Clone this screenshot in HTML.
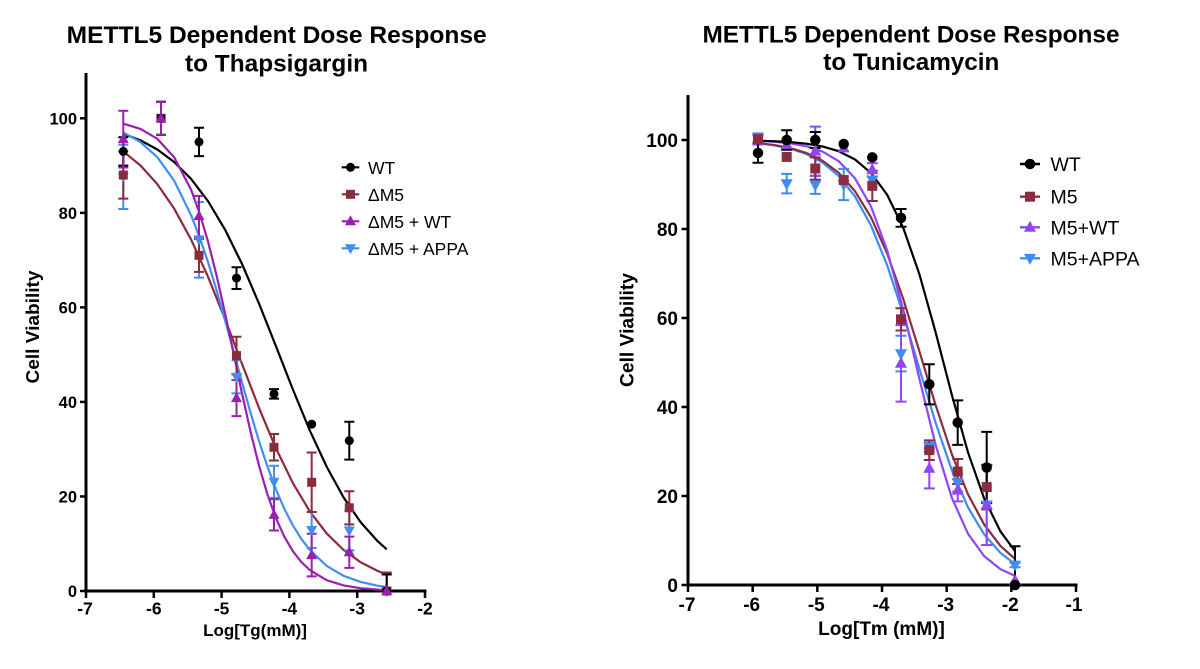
<!DOCTYPE html>
<html><head><meta charset="utf-8"><style>
html,body{margin:0;padding:0;background:#fff;}
svg{display:block;font-family:"Liberation Sans",Arial,sans-serif;}
</style></head><body>
<svg width="1200" height="669" viewBox="0 0 1200 669" xmlns="http://www.w3.org/2000/svg">
<defs>
<circle id="cL" r="4.5"/>
<rect id="sL" x="-4.5" y="-4.5" width="9" height="9"/>
<path id="uL" d="M0,-6L5.5,4L-5.5,4Z"/>
<path id="dL" d="M0,6L5.5,-4L-5.5,-4Z"/>
<circle id="cR" r="5.25"/>
<rect id="sR" x="-5" y="-5" width="10" height="10"/>
<path id="uR" d="M0,-6.6L6,4.4L-6,4.4Z"/>
<path id="dR" d="M0,6.6L6,-4.4L-6,-4.4Z"/>
</defs>
<rect width="1200" height="669" fill="#fff"/>
<!-- Titles -->
<g font-weight="bold" font-size="24" text-anchor="middle" fill="#000">
<text x="276.7" y="43" textLength="420" lengthAdjust="spacingAndGlyphs">METTL5 Dependent Dose Response</text>
<text x="276.5" y="71.5" textLength="183" lengthAdjust="spacingAndGlyphs">to Thapsigargin</text>
<text x="911" y="42.5" textLength="417" lengthAdjust="spacingAndGlyphs">METTL5 Dependent Dose Response</text>
<text x="911.3" y="70" textLength="176" lengthAdjust="spacingAndGlyphs">to Tunicamycin</text>
</g>
<!-- Axes -->
<g stroke="#000" stroke-width="3" fill="none">
<line x1="86" y1="73" x2="86" y2="592.5"/>
<line x1="84.5" y1="591" x2="426.5" y2="591"/>
<line x1="688" y1="95" x2="688" y2="586.5"/>
<line x1="686.5" y1="585" x2="1077.5" y2="585"/>
</g>
<g stroke="#000" stroke-width="2.5">
<line x1="80" y1="591" x2="86" y2="591"/>
<line x1="80" y1="496.46" x2="86" y2="496.46"/>
<line x1="80" y1="401.92" x2="86" y2="401.92"/>
<line x1="80" y1="307.38" x2="86" y2="307.38"/>
<line x1="80" y1="212.84" x2="86" y2="212.84"/>
<line x1="80" y1="118.3" x2="86" y2="118.3"/>
<line x1="86" y1="591" x2="86" y2="598"/>
<line x1="153.8" y1="591" x2="153.8" y2="598"/>
<line x1="221.6" y1="591" x2="221.6" y2="598"/>
<line x1="289.4" y1="591" x2="289.4" y2="598"/>
<line x1="357.2" y1="591" x2="357.2" y2="598"/>
<line x1="425" y1="591" x2="425" y2="598"/>
<line x1="681.5" y1="585" x2="688" y2="585"/>
<line x1="681.5" y1="496" x2="688" y2="496"/>
<line x1="681.5" y1="407" x2="688" y2="407"/>
<line x1="681.5" y1="318" x2="688" y2="318"/>
<line x1="681.5" y1="229" x2="688" y2="229"/>
<line x1="681.5" y1="140" x2="688" y2="140"/>
<line x1="688" y1="585" x2="688" y2="592"/>
<line x1="752.67" y1="585" x2="752.67" y2="592"/>
<line x1="817.34" y1="585" x2="817.34" y2="592"/>
<line x1="882.01" y1="585" x2="882.01" y2="592"/>
<line x1="946.68" y1="585" x2="946.68" y2="592"/>
<line x1="1011.35" y1="585" x2="1011.35" y2="592"/>
<line x1="1076" y1="585" x2="1076" y2="592"/>
</g>
<g font-weight="bold" font-size="16.5" fill="#000" text-anchor="end">
<text x="77" y="597">0</text>
<text x="77" y="502.5">20</text>
<text x="77" y="408">40</text>
<text x="77" y="313.4">60</text>
<text x="77" y="218.8">80</text>
<text x="77" y="124.3">100</text>
</g>
<g font-weight="bold" font-size="17.5" fill="#000" text-anchor="middle">
<text x="85" y="614.5">-7</text>
<text x="153.8" y="614.5">-6</text>
<text x="221.6" y="614.5">-5</text>
<text x="289.4" y="614.5">-4</text>
<text x="357.2" y="614.5">-3</text>
<text x="425" y="614.5">-2</text>
<text x="255" y="636" font-size="17">Log[Tg(mM)]</text>
</g>
<text transform="translate(39,327) rotate(-90)" font-weight="bold" font-size="18.5" text-anchor="middle" textLength="113" lengthAdjust="spacingAndGlyphs">Cell Viability</text>
<g font-weight="bold" font-size="19" fill="#000" text-anchor="end">
<text x="678" y="592">0</text>
<text x="678" y="503">20</text>
<text x="678" y="414">40</text>
<text x="678" y="325">60</text>
<text x="678" y="236">80</text>
<text x="678" y="147">100</text>
</g>
<g font-weight="bold" font-size="19" fill="#000" text-anchor="middle">
<text x="687" y="611">-7</text>
<text x="751.7" y="611">-6</text>
<text x="816.3" y="611">-5</text>
<text x="881" y="611">-4</text>
<text x="945.7" y="611">-3</text>
<text x="1010.3" y="611">-2</text>
<text x="1074" y="611">-1</text>
<text x="881.5" y="635">Log[Tm (mM)]</text>
</g>
<text transform="translate(633.5,330) rotate(-90)" font-weight="bold" font-size="19" text-anchor="middle" textLength="114" lengthAdjust="spacingAndGlyphs">Cell Viability</text>

<!-- LEFT CURVES -->
<g fill="none" stroke-width="2.2" stroke-linejoin="round">
<path stroke="#000" d="M123.29,133.71 L140.24,140.28 L157.19,149.40 L174.14,162.02 L191.09,178.95 L208.04,201.21 L224.99,229.53 L241.94,263.80 L258.89,303.27 L275.84,345.95 L292.79,389.25 L309.74,430.28 L326.69,466.77 L343.64,497.50 L360.59,522.13 L377.54,541.08 L386.69,549.31"/>
<path stroke="#8b2b3b" d="M123.29,151.48 L140.24,165.29 L157.19,184.00 L174.14,208.54 L191.09,239.55 L208.04,276.84 L224.99,319.01 L241.94,363.63 L258.89,407.64 L275.84,448.06 L292.79,482.89 L309.74,511.30 L326.69,533.43 L343.64,550.02 L360.59,562.21 L377.54,570.91 L386.69,574.50"/>
<path stroke="#3f8ff2" d="M123.29,132.48 L140.24,141.93 L157.19,157.06 L174.14,180.60 L191.09,215.20 L199.57,237.14 L208.04,262.24 L216.52,290.03 L224.99,319.91 L233.47,350.87 L241.94,382.11 L250.42,412.27 L258.89,440.68 L267.37,466.40 L275.84,489.13 L284.32,508.75 L292.79,525.20 L301.27,538.81 L309.74,549.88 L326.69,565.90 L343.64,575.87 L360.59,581.97 L377.54,585.66 L386.69,586.98"/>
<path stroke="#9b1fae" d="M123.29,123.69 L140.24,128.84 L157.19,138.72 L174.14,157.20 L191.09,189.73 L199.57,213.03 L208.04,241.63 L216.52,275.24 L224.99,313.00 L233.47,353.04 L241.94,393.13 L250.42,431.13 L258.89,465.17 L267.37,494.19 L275.84,517.92 L284.32,536.69 L292.79,551.10 L301.27,561.98 L309.74,570.01 L326.69,580.18 L343.64,585.47 L360.59,588.21 L377.54,589.58 L386.69,590.01"/>
</g>
<!-- LEFT ERROR BARS -->
<g fill="none" stroke-width="2">
<path stroke="#3f8ff2" d="M123.3,144.77V209.06M118.3,144.77H128.3M118.3,209.06H128.3 M161,101.76V134.84M156,101.76H166M156,134.84H166 M199,201.97V277.6M194,201.97H204M194,277.6H204 M236.5,360.32V393.41M231.5,360.32H241.5M231.5,393.41H241.5 M274,465.73V497.88M269,465.73H279M269,497.88H279 M311.7,512.06V547.98M306.7,512.06H316.7M306.7,547.98H316.7 M349.3,510.64V550.35M344.3,510.64H354.3M344.3,550.35H354.3"/>
<path stroke="#8b2b3b" d="M123.3,151.39V198.66M118.3,151.39H128.3M118.3,198.66H128.3 M161,101.76V134.84M156,101.76H166M156,134.84H166 M199,238.84V271.93M194,238.84H204M194,271.93H204 M236.5,336.69V374.5M231.5,336.69H241.5M231.5,374.5H241.5 M274,434.06V460.53M269,434.06H279M269,460.53H279 M311.7,452.5V512.06M306.7,452.5H316.7M306.7,512.06H316.7 M349.3,491.26V524.35M344.3,491.26H354.3M344.3,524.35H354.3 M386.7,572.56V591M381.7,572.56H391.7"/>
<path stroke="#000" d="M123.3,137.21V165.57M118.3,137.21H128.3M118.3,165.57H128.3 M161,101.76V134.84M156,101.76H166M156,134.84H166 M199,127.75V156.12M194,127.75H204M194,156.12H204 M236.5,267.2V288.94M231.5,267.2H241.5M231.5,288.94H241.5 M274,389.15V398.61M269,389.15H279M269,398.61H279 M349.3,421.77V459.59M344.3,421.77H354.3M344.3,459.59H354.3 M386.7,574.46V591M381.7,574.46H391.7"/>
<path stroke="#9b1fae" d="M123.3,110.74V167.46M118.3,110.74H128.3M118.3,167.46H128.3 M161,101.76V134.84M156,101.76H166M156,134.84H166 M199,195.82V236.47M194,195.82H204M194,236.47H204 M236.5,380.18V416.1M231.5,380.18H241.5M231.5,416.1H241.5 M274,499.3V530.49M269,499.3H279M269,530.49H279 M311.7,533.8V576.35M306.7,533.8H316.7M306.7,576.35H316.7 M349.3,536.64V567.84M344.3,536.64H354.3M344.3,567.84H354.3"/>
</g>
<!-- LEFT MARKERS -->
<g fill="#3f8ff2">
<use href="#dL" x="123.3" y="176.91"/><use href="#dL" x="161" y="118.3"/><use href="#dL" x="199" y="239.78"/><use href="#dL" x="236.5" y="376.87"/><use href="#dL" x="274" y="481.81"/><use href="#dL" x="311.7" y="530.02"/><use href="#dL" x="349.3" y="530.49"/><use href="#dL" x="386.7" y="591"/>
</g>
<g fill="#8b2b3b">
<use href="#sL" x="123.3" y="175.02"/><use href="#sL" x="161" y="118.3"/><use href="#sL" x="199" y="255.38"/><use href="#sL" x="236.5" y="355.6"/><use href="#sL" x="274" y="447.3"/><use href="#sL" x="311.7" y="482.28"/><use href="#sL" x="349.3" y="507.8"/><use href="#sL" x="386.7" y="591"/>
</g>
<g fill="#000">
<use href="#cL" x="123.3" y="151.39"/><use href="#cL" x="161" y="118.3"/><use href="#cL" x="199" y="141.93"/><use href="#cL" x="236.5" y="278.07"/><use href="#cL" x="274" y="393.88"/><use href="#cL" x="311.7" y="424.14"/><use href="#cL" x="349.3" y="440.68"/><use href="#cL" x="386.7" y="591"/>
</g>
<g fill="#9b1fae">
<use href="#uL" x="123.3" y="139.1"/><use href="#uL" x="161" y="118.3"/><use href="#uL" x="199" y="216.15"/><use href="#uL" x="236.5" y="398.14"/><use href="#uL" x="274" y="514.9"/><use href="#uL" x="311.7" y="555.07"/><use href="#uL" x="349.3" y="552.24"/><use href="#uL" x="386.7" y="591"/>
</g>
<!-- LEFT LEGEND -->
<g stroke-width="2.2">
<line x1="341.7" y1="167.3" x2="359.3" y2="167.3" stroke="#000"/>
<line x1="341.7" y1="194.3" x2="359.3" y2="194.3" stroke="#8b2b3b"/>
<line x1="341.7" y1="221.3" x2="359.3" y2="221.3" stroke="#9b1fae"/>
<line x1="341.7" y1="248.3" x2="359.3" y2="248.3" stroke="#3f8ff2"/>
</g>
<use href="#cL" x="350.5" y="167.3" fill="#000"/>
<use href="#sL" x="350.5" y="194.3" fill="#8b2b3b"/>
<use href="#uL" x="350.5" y="221.3" fill="#9b1fae"/>
<use href="#dL" x="350.5" y="248.3" fill="#3f8ff2"/>
<g font-size="17.5" fill="#000">
<text x="368" y="173.8">WT</text>
<text x="368" y="200.8">ΔM5</text>
<text x="368" y="227.8">ΔM5 + WT</text>
<text x="368" y="254.8">ΔM5 + APPA</text>
</g>

<!-- RIGHT CURVES -->
<g fill="none" stroke-width="2.2" stroke-linejoin="round">
<path stroke="#3b8cf4" d="M757.84,143.20 L774.01,145.25 L790.18,148.59 L806.35,153.97 L822.51,162.52 L838.68,175.91 L854.85,196.20 L871.02,225.53 L887.18,265.27 L903.35,314.44 L919.52,369.17 L935.69,423.06 L951.85,470.23 L968.02,507.44 L984.19,534.40 L1000.36,552.83 L1015.23,564.13"/>
<path stroke="#8c2c40" d="M757.84,143.07 L774.01,144.98 L790.18,148.05 L806.35,152.95 L822.51,160.74 L838.68,172.75 L854.85,190.95 L871.02,217.34 L887.18,253.52 L903.35,299.27 L919.52,351.69 L935.69,405.26 L951.85,454.21 L968.02,494.35 L984.19,524.57 L1000.36,545.84 L1015.23,559.15"/>
<path stroke="#8e47f2" d="M757.84,140.93 L774.01,141.78 L790.18,143.34 L806.35,146.23 L822.51,151.53 L838.68,161.14 L854.85,178.09 L871.02,206.53 L887.18,250.45 L903.35,310.26 L919.52,379.28 L935.69,445.18 L951.85,497.74 L968.02,533.82 L984.19,556.16 L1000.36,569.16 L1015.23,576.01"/>
<path stroke="#000" d="M757.84,140.67 L774.01,141.20 L790.18,142.09 L806.35,143.69 L822.51,146.45 L838.68,151.21 L854.85,159.36 L871.02,172.93 L887.18,194.78 L903.35,228.11 L919.52,274.66 L935.69,332.60 L951.85,394.90 L968.02,452.43 L984.19,498.49 L1000.36,531.29 L1015.23,551.40"/>
</g>
<!-- RIGHT ERROR BARS -->
<g fill="none" stroke-width="2">
<path stroke="#3b8cf4" d="M758,133.33V142.23M752.5,133.33H763.5M752.5,142.23H763.5 M786.7,173.82V193.4M781.2,173.82H792.2M781.2,193.4H792.2 M815.3,176.04V193.85M809.8,176.04H820.8M809.8,193.85H820.8 M843.7,168.92V200.07M838.2,168.92H849.2M838.2,200.07H849.2 M901,335.8V371.4M895.5,335.8H906.5M895.5,371.4H906.5 M929.3,442.6V451.5M923.8,442.6H934.8M923.8,451.5H934.8 M957.7,473.75V491.55M952.2,473.75H963.2M952.2,491.55H963.2 M986.7,464.85V544.95M981.2,464.85H992.2M981.2,544.95H992.2 M1015,562.75V567.2M1009.5,562.75H1020.5M1009.5,567.2H1020.5"/>
<path stroke="#8e47f2" d="M758,135.55V144.45M752.5,135.55H763.5M752.5,144.45H763.5 M815.3,126.65V175.6M809.8,126.65H820.8M809.8,175.6H820.8 M872.3,163.14V176.49M866.8,163.14H877.8M866.8,176.49H877.8 M901,325.12V401.66M895.5,325.12H906.5M895.5,401.66H906.5 M929.3,448.38V488.43M923.8,448.38H934.8M923.8,488.43H934.8 M957.7,479.09V501.34M952.2,479.09H963.2M952.2,501.34H963.2 M986.7,464.85V544.95M981.2,464.85H992.2M981.2,544.95H992.2"/>
<path stroke="#8c2c40" d="M758,134.66V143.56M752.5,134.66H763.5M752.5,143.56H763.5 M815.3,157.35V179.6M809.8,157.35H820.8M809.8,179.6H820.8 M872.3,170.7V200.96M866.8,170.7H877.8M866.8,200.96H877.8 M901,308.21V330.46M895.5,308.21H906.5M895.5,330.46H906.5 M929.3,440.37V459.95M923.8,440.37H934.8M923.8,459.95H934.8 M957.7,459.06V483.98M952.2,459.06H963.2M952.2,483.98H963.2 M986.7,464.85V509.35M981.2,464.85H992.2M981.2,509.35H992.2"/>
<path stroke="#000" d="M758,143.11V162.69M752.5,143.11H763.5M752.5,162.69H763.5 M786.7,130.21V149.79M781.2,130.21H792.2M781.2,149.79H792.2 M815.3,131.99V148.01M809.8,131.99H820.8M809.8,148.01H820.8 M901,208.97V226.77M895.5,208.97H906.5M895.5,226.77H906.5 M929.3,364.28V404.33M923.8,364.28H934.8M923.8,404.33H934.8 M957.7,400.32V444.82M952.2,400.32H963.2M952.2,444.82H963.2 M986.7,431.92V503.12M981.2,431.92H992.2M981.2,503.12H992.2 M1015,546.28V585M1009.5,546.28H1020.5"/>
</g>
<!-- RIGHT MARKERS -->
<g fill="#3b8cf4">
<use href="#dR" x="758" y="137.78"/><use href="#dR" x="786.7" y="183.61"/><use href="#dR" x="815.3" y="184.94"/><use href="#dR" x="843.7" y="184.5"/><use href="#dR" x="872.3" y="180.05"/><use href="#dR" x="901" y="353.6"/><use href="#dR" x="929.3" y="447.05"/><use href="#dR" x="957.7" y="482.65"/><use href="#dR" x="986.7" y="504.9"/><use href="#dR" x="1015" y="564.98"/>
</g>
<g fill="#8e47f2">
<use href="#uR" x="758" y="140"/><use href="#uR" x="786.7" y="144.45"/><use href="#uR" x="815.3" y="151.12"/><use href="#uR" x="843.7" y="148.01"/><use href="#uR" x="872.3" y="169.81"/><use href="#uR" x="901" y="363.39"/><use href="#uR" x="929.3" y="468.41"/><use href="#uR" x="957.7" y="490.21"/><use href="#uR" x="986.7" y="504.9"/><use href="#uR" x="1015" y="580.55"/>
</g>
<g fill="#8c2c40">
<use href="#sR" x="758" y="139.11"/><use href="#sR" x="786.7" y="156.91"/><use href="#sR" x="815.3" y="168.48"/><use href="#sR" x="843.7" y="180.05"/><use href="#sR" x="872.3" y="185.83"/><use href="#sR" x="901" y="319.33"/><use href="#sR" x="929.3" y="450.16"/><use href="#sR" x="957.7" y="471.52"/><use href="#sR" x="986.7" y="487.1"/>
</g>
<g fill="#000">
<use href="#cR" x="758" y="152.9"/><use href="#cR" x="786.7" y="140"/><use href="#cR" x="815.3" y="140"/><use href="#cR" x="843.7" y="144"/><use href="#cR" x="872.3" y="157.35"/><use href="#cR" x="901" y="217.87"/><use href="#cR" x="929.3" y="384.3"/><use href="#cR" x="957.7" y="422.57"/><use href="#cR" x="986.7" y="467.52"/><use href="#cR" x="1015" y="585"/>
</g>
<!-- RIGHT LEGEND -->
<g stroke-width="2.4">
<line x1="1020" y1="164" x2="1040" y2="164" stroke="#000"/>
<line x1="1020" y1="196.7" x2="1040" y2="196.7" stroke="#8c2c40"/>
<line x1="1020" y1="227.3" x2="1040" y2="227.3" stroke="#8e47f2"/>
<line x1="1020" y1="258.3" x2="1040" y2="258.3" stroke="#3b8cf4"/>
</g>
<use href="#cR" x="1030" y="164" fill="#000"/>
<use href="#sR" x="1030" y="196.7" fill="#8c2c40"/>
<use href="#uR" x="1030" y="227.3" fill="#8e47f2"/>
<use href="#dR" x="1030" y="258.3" fill="#3b8cf4"/>
<g font-size="19.5" fill="#000">
<text x="1050.5" y="171">WT</text>
<text x="1050.5" y="203.7">M5</text>
<text x="1050.5" y="234.3">M5+WT</text>
<text x="1050.5" y="265.3">M5+APPA</text>
</g>
</svg>
</body></html>
